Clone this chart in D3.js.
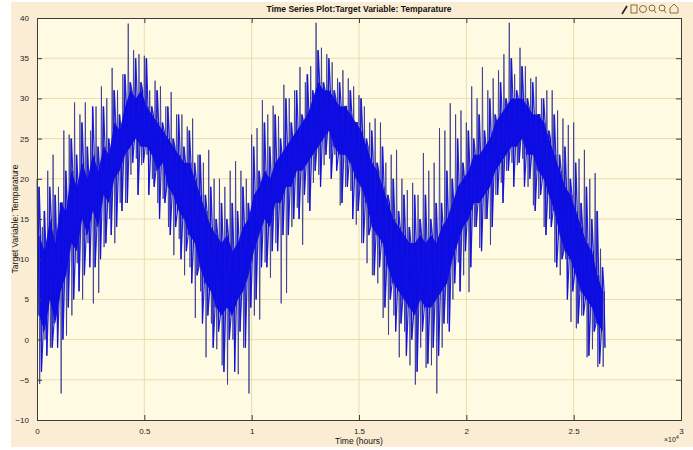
<!DOCTYPE html>
<html>
<head>
<meta charset="utf-8">
<script src="https://cdn.jsdelivr.net/npm/d3@7"></script>
<style>
  html, body { margin: 0; padding: 0; background: #ffffff; }
  svg { display: block; font-family: "Liberation Sans", Arial, sans-serif; }
</style>
</head>
<body>
<div id="chart"></div>
<script>
const hours = [
  0, 250, 500, 750, 1000, 1250, 1500, 1750, 2000, 2250,
  2500, 2750, 3000, 3250, 3500, 3750, 4000, 4250, 4500, 4750,
  5000, 5250, 5500, 5750, 6000, 6250, 6500, 6750, 7000, 7250,
  7500, 7750, 8000, 8250, 8500, 8750, 9000, 9250, 9500, 9750,
  10000, 10250, 10500, 10750, 11000, 11250, 11500, 11750, 12000, 12250,
  12500, 12750, 13000, 13250, 13500, 13750, 14000, 14250, 14500, 14750,
  15000, 15250, 15500, 15750, 16000, 16250, 16500, 16750, 17000, 17250,
  17500, 17750, 18000, 18250, 18500, 18750, 19000, 19250, 19500, 19750,
  20000, 20250, 20500, 20750, 21000, 21250, 21500, 21750, 22000, 22250,
  22500, 22750, 23000, 23250, 23500, 23750, 24000, 24250, 24500, 24750,
  25000, 25250, 25500, 25750, 26000, 26250
];
// highest spikes
const spikeHigh = [
  20, 14, 21, 23, 19, 26, 25.5, 29.5, 28, 29.5,
  26, 29, 31.5, 30, 33.8, 31, 33, 39.3, 36, 35.5,
  35.3, 31, 32.2, 31.5, 29, 30.8, 28, 28, 26.5, 27.5,
  23, 22, 23.6, 20, 20, 19, 21, 22.2, 21, 20,
  25.5, 26.3, 29.8, 28, 29.1, 27.8, 31.7, 30, 31, 33.9,
  32, 34, 39.4, 36.3, 35.5, 34.5, 32.5, 33.5, 32.5, 31.5,
  30.4, 29, 27, 27.5, 27, 22, 23, 23.6, 20, 18.6,
  19.5, 18, 23.2, 21, 22, 26.3, 26, 29.4, 28, 28.5,
  27, 31.5, 30, 33.9, 31, 32.5, 33.5, 35.5, 39.4, 33,
  36.3, 34, 32.5, 32.7, 30, 31, 31, 28.5, 27.5, 26.7,
  27, 22.5, 23.6, 20, 20.7, 11.3
];
// lowest spikes
const spikeLow = [
  -5.5, 0, -1, 3, -6.7, 0.5, 3, 9.5, 5, 12,
  4.5, 5.8, 11.5, 15, 12, 17, 17, 20.5, 22.5, 21.7,
  23, 20, 17, 17.5, 14, 10.5, 12.5, 8, 9, 2.7,
  6, -2.2, 2, -1.2, -3.2, -5.6, 0, -4.3, -1, -6.7,
  3, 2.5, 9.6, 7.7, 12, 4.5, 5.8, 14, 16.4, 11.8,
  17, 19.5, 20.5, 21.7, 22.5, 23, 16.7, 19, 18.5, 14.3,
  12, 9.5, 8, 7, 2.7, 0.6, 3, -2.2, 1, -3.2,
  -5.6, -1, -3.5, -3.2, -6.7, -1, 2, 5, 9.6, 8,
  5.9, 14, 11.4, 15, 11.8, 18, 19.5, 21, 22, 21.7,
  22.5, 19, 16.7, 17.5, 14, 15, 9.6, 8, 10, 2.2,
  1.4, 3, -2.2, -1.2, -3.4, -3.4
];
// lesser spikes at the ragged edge of the blue part
const secHigh = [
  19, 16, 19, 18, 17, 21, 25, 23, 27, 24,
  29, 24, 29, 25, 31, 28, 33, 32, 35, 32,
  35, 29, 31, 27, 29, 25, 28, 24, 26, 22,
  23, 18, 19, 15, 17, 15, 17, 16, 19, 17,
  24, 21, 27, 24, 28, 25, 30, 27, 31, 28,
  33, 31, 36, 32, 35, 31, 32, 29, 31, 27,
  30, 25, 26, 22, 24, 18, 20, 16, 18, 14,
  18, 15, 18, 15, 17, 17, 21, 20, 25, 22,
  26, 25, 28, 26, 30, 28, 32, 30, 35, 31,
  34, 30, 32, 28, 30, 26, 28, 23, 24, 20,
  22, 17, 19, 15, 16, 9
];
const secLow = [
  -4, -2, -1, -1, 0, 4, 5, 6, 8, 9,
  9, 10, 12, 13, 14, 16, 17, 22, 18, 22,
  18, 19, 15, 17, 13, 14, 10, 11, 7, 8,
  2, 3, -1, 1, -4, 0, -4, 1, -1, 4,
  5, 9, 9, 11, 11, 13, 13, 15, 15, 18,
  16, 21, 19, 23, 20, 21, 17, 19, 15, 16,
  12, 13, 8, 9, 4, 5, 1, 2, -2, 0,
  -4, 1, -3, -1, -2, 2, 1, 7, 6, 11,
  9, 14, 11, 15, 14, 18, 17, 21, 19, 22,
  19, 20, 16, 18, 13, 14, 9, 10, 5, 6,
  2, 3, -2, 1, -3, -1
];
// ordinary daily highs and lows, the densest part of the trace
const midHigh = [
  13, 11, 15, 12, 17, 16, 21, 19, 22, 20,
  23, 21, 24, 23, 27, 26, 29, 31, 30, 31,
  29, 28, 27, 26, 25, 24, 23, 22, 22, 20,
  18, 16, 14, 13, 12, 13, 11, 12, 14, 15,
  18, 19, 21, 20, 22, 23, 24, 25, 26, 27,
  28, 30, 32, 31, 31, 30, 29, 29, 28, 27,
  26, 24, 22, 21, 19, 17, 15, 14, 13, 12,
  12, 13, 12, 13, 12, 14, 15, 17, 19, 20,
  21, 23, 23, 24, 25, 27, 28, 29, 30, 30,
  30, 29, 28, 28, 27, 25, 23, 21, 19, 18,
  16, 14, 12, 11, 8, 6
];
const midLow = [
  3, 1, 5, 2, 6, 8, 12, 11, 15, 13,
  16, 14, 18, 17, 20, 21, 23, 24, 25, 24,
  24, 23, 21, 22, 19, 18, 16, 15, 13, 12,
  9, 7, 6, 4, 3, 4, 3, 5, 6, 8,
  11, 13, 15, 14, 17, 17, 19, 19, 21, 21,
  22, 23, 24, 25, 26, 24, 23, 23, 22, 20,
  19, 17, 14, 13, 12, 9, 7, 6, 5, 4,
  3, 5, 4, 4, 5, 6, 7, 10, 12, 14,
  15, 17, 17, 18, 19, 21, 22, 23, 24, 24,
  25, 23, 23, 21, 20, 18, 16, 13, 11, 10,
  8, 6, 5, 4, 2, 1
];
const xTicks = [0, 5000, 10000, 15000, 20000, 25000, 30000];
const yTicks = [-10, -5, 0, 5, 10, 15, 20, 25, 30, 35, 40];

const W = 693, H = 450;
const m = { left: 37, right: 681, top: 18, bottom: 420 };

const svg = d3.select('#chart')
  .append('svg')
  .attr('width', W)
  .attr('height', H);

// figure background
svg.append('rect')
  .attr('x', 11).attr('y', 2)
  .attr('width', W - 11).attr('height', 445)
  .attr('fill', '#fbedd4');

const x = d3.scaleLinear().domain([0, 30000]).range([m.left, m.right]);
const y = d3.scaleLinear().domain([-10, 40]).range([m.bottom, m.top]);

svg.append('rect')
  .attr('x', m.left).attr('y', m.top)
  .attr('width', m.right - m.left).attr('height', m.bottom - m.top)
  .attr('fill', '#fffbe3');

// grid
svg.append('g')
  .selectAll('line')
  .data(xTicks.slice(1, -1))
  .join('line')
  .attr('x1', d => x(d)).attr('x2', d => x(d))
  .attr('y1', m.top).attr('y2', m.bottom)
  .attr('stroke', '#e8dcae').attr('stroke-width', 1);
svg.append('g')
  .selectAll('line')
  .data(yTicks.slice(1, -1))
  .join('line')
  .attr('x1', m.left).attr('x2', m.right)
  .attr('y1', d => y(d)).attr('y2', d => y(d))
  .attr('stroke', '#e8dcae').attr('stroke-width', 1);

// full trace, six readings per step
const trace = [];
hours.forEach((h, i) => {
  trace.push([h, spikeHigh[i]]);
  trace.push([h + 42, midLow[i]]);
  trace.push([h + 83, secHigh[i]]);
  trace.push([h + 125, spikeLow[i]]);
  trace.push([h + 167, midHigh[i]]);
  trace.push([h + 208, secLow[i]]);
});
const band = hours.map((h, i) => ({ h: h + 104, hi: midHigh[i], lo: midLow[i] }));
const dense = [];
hours.forEach((h, i) => {
  dense.push([h + 42, midLow[i]]);
  dense.push([h + 104, secHigh[i]]);
  dense.push([h + 167, midHigh[i]]);
  dense.push([h + 208, secLow[i]]);
});

const line = d3.line().x(d => x(d[0])).y(d => y(d[1]));
const plot = svg.append('g');

// dark spikes underneath, bright blue body on top
plot.append('path')
  .datum(trace)
  .attr('fill', 'none')
  .attr('stroke', '#34348e')
  .attr('stroke-opacity', 0.8)
  .attr('stroke-width', 1)
  .attr('d', line);

plot.append('path')
  .datum(band)
  .attr('fill', '#1010e0')
  .attr('d', d3.area().x(d => x(d.h)).y0(d => y(d.lo)).y1(d => y(d.hi)));

plot.append('path')
  .datum(dense)
  .attr('fill', 'none')
  .attr('stroke', '#0a0ae6')
  .attr('stroke-opacity', 0.9)
  .attr('stroke-width', 1.2)
  .attr('d', line);

// axes, MATLAB style with inward ticks on all four sides
const axisColor = '#3c3c3c';
const fmtX = d => d3.format('~g')(d / 10000);

svg.append('g')
  .attr('transform', `translate(0,${m.bottom})`)
  .call(d3.axisBottom(x).tickValues(xTicks).tickSize(-5).tickPadding(8).tickFormat(fmtX));
svg.append('g')
  .attr('transform', `translate(0,${m.top})`)
  .call(d3.axisTop(x).tickValues(xTicks).tickSize(-5).tickFormat(''));
svg.append('g')
  .attr('transform', `translate(${m.left},0)`)
  .call(d3.axisLeft(y).tickValues(yTicks).tickSize(-5).tickPadding(8));
svg.append('g')
  .attr('transform', `translate(${m.right},0)`)
  .call(d3.axisRight(y).tickValues(yTicks).tickSize(-5).tickFormat(''));

svg.selectAll('.domain').attr('stroke', axisColor);
svg.selectAll('.tick line').attr('stroke', axisColor);
svg.selectAll('.tick text')
  .attr('fill', '#222')
  .attr('font-size', 8)
  .attr('font-family', '"Liberation Sans", Arial, sans-serif');

// texts
svg.append('text')
  .attr('x', (m.left + m.right) / 2).attr('y', 12)
  .attr('text-anchor', 'middle')
  .attr('font-size', 8.5).attr('font-weight', 'bold').attr('fill', '#111')
  .text('Time Series Plot:Target Variable: Temparature');

svg.append('text')
  .attr('x', (m.left + m.right) / 2).attr('y', 444)
  .attr('text-anchor', 'middle')
  .attr('font-size', 8.5).attr('fill', '#111')
  .text('Time (hours)');

svg.append('text')
  .attr('transform', `translate(18,${(m.top + m.bottom) / 2}) rotate(-90)`)
  .attr('text-anchor', 'middle')
  .attr('font-size', 8.5).attr('fill', '#111')
  .text('Target Variable: Temparature');

const exp = svg.append('text')
  .attr('x', 664).attr('y', 442)
  .attr('font-size', 7).attr('fill', '#222');
exp.append('tspan').text('×10');
exp.append('tspan').attr('dy', -3).attr('font-size', 5).text('4');

// figure toolbar glyphs, top right
const tb = svg.append('g').attr('stroke', '#8a6a3a').attr('fill', 'none').attr('stroke-width', 1);
tb.append('line').attr('x1', 622).attr('y1', 14).attr('x2', 627).attr('y2', 6).attr('stroke', '#222').attr('stroke-width', 1.6);
tb.append('rect').attr('x', 631).attr('y', 5).attr('width', 6).attr('height', 8);
tb.append('circle').attr('cx', 643).attr('cy', 9).attr('r', 3.5);
tb.append('circle').attr('cx', 652).attr('cy', 8).attr('r', 3);
tb.append('line').attr('x1', 654).attr('y1', 10).attr('x2', 656).attr('y2', 13);
tb.append('circle').attr('cx', 662).attr('cy', 8).attr('r', 3);
tb.append('line').attr('x1', 664).attr('y1', 10).attr('x2', 666).attr('y2', 13);
tb.append('path').attr('d', 'M670,13 L670,8 L674,4 L678,8 L678,13 Z');
</script>
</body>
</html>
